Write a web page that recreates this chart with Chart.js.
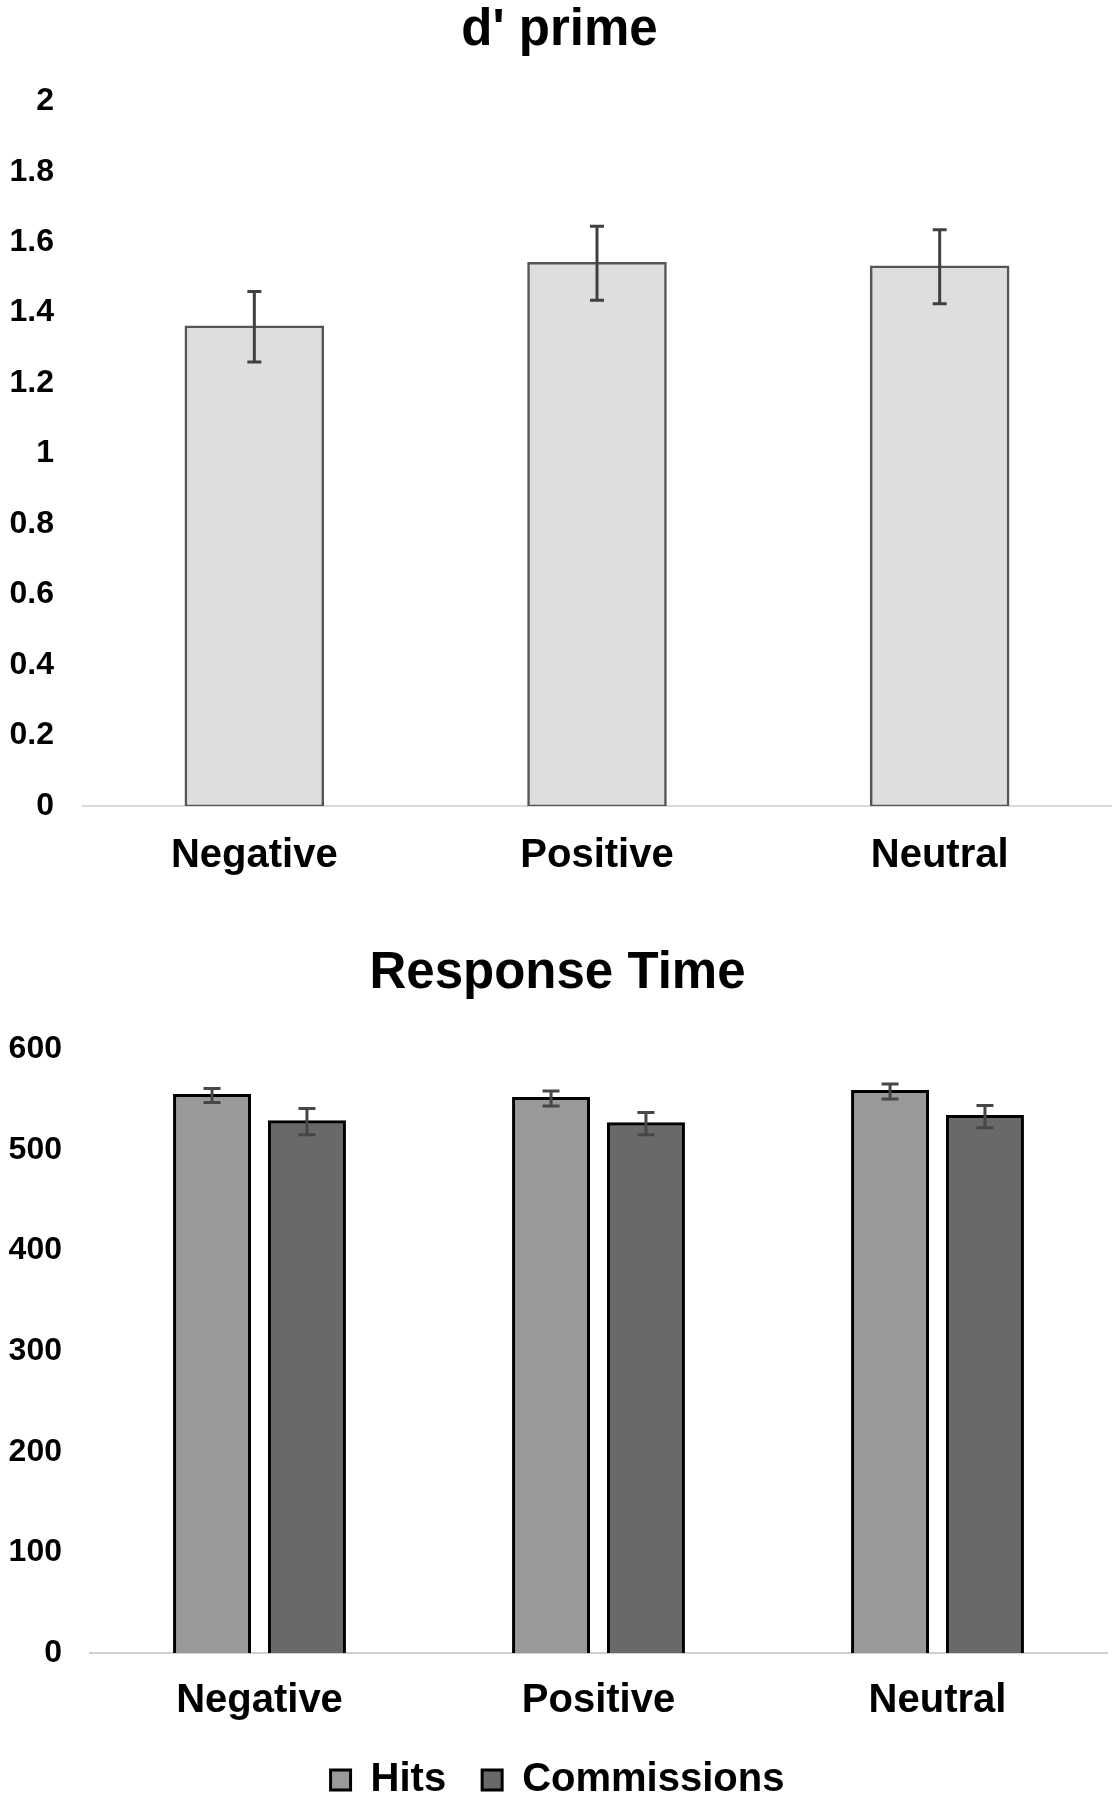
<!DOCTYPE html>
<html>
<head>
<meta charset="utf-8">
<title>d' prime / Response Time</title>
<script src="https://cdn.jsdelivr.net/npm/chart.js@4.4.1/dist/chart.umd.min.js"></script>
<style>
    body { margin: 0; background: #fff; }
    .panel { width: 1119px; position: relative; }
</style>
</head>
<body>
<div class="panel" style="height:900px"><canvas id="dprimeChart"></canvas></div>
<div class="panel" style="height:910px"><canvas id="rtChart"></canvas></div>
<script>
// data
const conditions = ['Negative', 'Positive', 'Neutral'];

const dprime = [1.36, 1.54, 1.53];
const dprimeErr = [0.10, 0.105, 0.105];
const dprimeTicks = [0, 0.2, 0.4, 0.6, 0.8, 1, 1.2, 1.4, 1.6, 1.8, 2];

const hitsRT = [554, 551, 558];
const hitsErr = [7, 7.5, 7.5];
const commissionsRT = [528, 526, 533];
const commissionsErr = [13, 11, 11];
const rtTicks = [0, 100, 200, 300, 400, 500, 600];

const FONT = '"Liberation Sans", Arial, sans-serif';

// draws +/- error bars on top of the bars, using the chart's own y scale
const errorBars = {
    id: 'errorBars',
    afterDatasetsDraw(chart) {
        const ctx = chart.ctx;
        const yScale = chart.scales.y;
        chart.data.datasets.forEach((ds, di) => {
            if (!ds.errors) return;
            const meta = chart.getDatasetMeta(di);
            meta.data.forEach((bar, i) => {
                const v = ds.data[i], e = ds.errors[i];
                const yTop = yScale.getPixelForValue(v + e);
                const yBot = yScale.getPixelForValue(v - e);
                const half = ds.capWidth / 2;
                ctx.save();
                ctx.strokeStyle = ds.errorColor;
                ctx.lineWidth = 3;
                ctx.beginPath();
                ctx.moveTo(bar.x, yTop);
                ctx.lineTo(bar.x, yBot);
                ctx.moveTo(bar.x - half, yTop);
                ctx.lineTo(bar.x + half, yTop);
                ctx.moveTo(bar.x - half, yBot);
                ctx.lineTo(bar.x + half, yBot);
                ctx.stroke();
                ctx.restore();
            });
        });
    }
};

document.addEventListener('DOMContentLoaded', function() {
    Chart.defaults.font.family = FONT;
    Chart.defaults.font.weight = 'bold';
    Chart.defaults.color = '#000';

    // d' prime
    new Chart(document.getElementById('dprimeChart'), {
        type: 'bar',
        data: {
            labels: conditions,
            datasets: [{
                label: "d' prime",
                data: dprime,
                errors: dprimeErr,
                errorColor: '#404040',
                capWidth: 14,
                backgroundColor: '#dedede',
                borderColor: '#555555',
                borderWidth: 2.5,
                borderSkipped: false,
                inflateAmount: 1.25, // centre the outline on the bar edge like Excel
                barPercentage: 0.40,
                categoryPercentage: 1
            }]
        },
        options: {
            responsive: true,
            maintainAspectRatio: false,
            animation: false,
            layout: { padding: { left: 8, right: 8, top: 0, bottom: 0 } },
            plugins: {
                legend: { display: false },
                tooltip: { enabled: false },
                title: {
                    display: true,
                    text: "d' prime",
                    font: { size: 51, weight: 'bold' },
                    padding: { top: 0, bottom: 40 }
                }
            },
            scales: {
                y: {
                    min: 0,
                    max: 2,
                    afterBuildTicks: s => { s.ticks = dprimeTicks.map(v => ({ value: v })); },
                    afterFit: s => { s.width = 75; },
                    grid: { display: false },
                    border: { display: false },
                    ticks: { padding: 21, font: { size: 32 }, callback: v => String(v) }
                },
                x: {
                    afterFit: s => { s.height = 94; },
                    grid: { display: false },
                    border: { color: '#d9d9d9', width: 2 },
                    ticks: { padding: 18, font: { size: 40 } }
                }
            }
        },
        plugins: [errorBars]
    });

    // Response Time
    new Chart(document.getElementById('rtChart'), {
        type: 'bar',
        data: {
            labels: conditions,
            datasets: [{
                label: 'Hits',
                data: hitsRT,
                errors: hitsErr,
                errorColor: '#474747',
                capWidth: 17,
                backgroundColor: '#999999',
                borderColor: '#000',
                borderWidth: 3,
                inflateAmount: 1.5,
                barPercentage: 0.79,
                categoryPercentage: 0.56
            }, {
                label: 'Commissions',
                data: commissionsRT,
                errors: commissionsErr,
                errorColor: '#474747',
                capWidth: 17,
                backgroundColor: '#696969',
                borderColor: '#000',
                borderWidth: 3,
                inflateAmount: 1.5,
                barPercentage: 0.79,
                categoryPercentage: 0.56
            }]
        },
        options: {
            responsive: true,
            maintainAspectRatio: false,
            animation: false,
            layout: { padding: { left: 8, right: 12, top: 0, bottom: 0 } },
            plugins: {
                tooltip: { enabled: false },
                title: {
                    display: true,
                    text: 'Response Time',
                    font: { size: 51, weight: 'bold' },
                    padding: { top: 43, bottom: 45 }
                },
                legend: {
                    position: 'bottom',
                    labels: {
                        boxWidth: 20,
                        boxHeight: 20,
                        padding: 36,
                        font: { size: 40, weight: 'bold' }
                    }
                }
            },
            scales: {
                y: {
                    min: 0,
                    max: 600,
                    afterBuildTicks: s => { s.ticks = rtTicks.map(v => ({ value: v })); },
                    afterFit: s => { s.width = 82; },
                    grid: { display: false },
                    border: { display: false },
                    ticks: { padding: 20, font: { size: 32 }, callback: v => String(v) }
                },
                x: {
                    afterFit: s => { s.height = 71; },
                    grid: { display: false },
                    border: { color: '#d0d0d0', width: 2 },
                    ticks: { padding: 16, font: { size: 40 } }
                }
            }
        },
        plugins: [errorBars]
    });
});
</script>
</body>
</html>
